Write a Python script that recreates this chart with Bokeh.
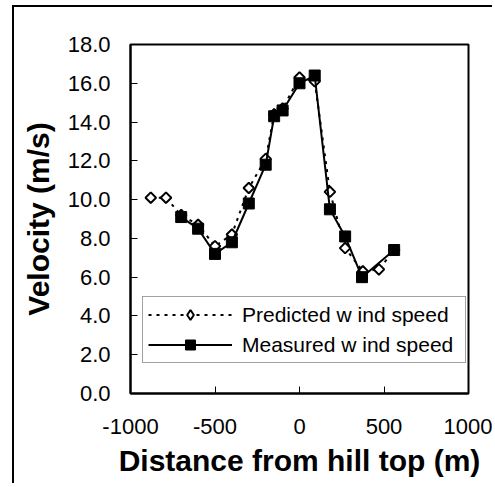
from bokeh.plotting import figure
from bokeh.models import (FixedTicker, PrintfTickFormatter, Range1d, Legend,
                          LegendItem)
from bokeh.embed import file_html
from bokeh.resources import INLINE

# Predicted wind speed
pred_x = [-880, -790, -700, -600, -500, -400, -300, -200, -150, -100, 0, 90, 180, 270, 375, 470, 560]
pred_y = [10.1, 10.1, 9.2, 8.7, 7.6, 8.2, 10.6, 12.1, 14.4, 14.7, 16.3, 16.1, 10.4, 7.5, 6.3, 6.4, 7.4]

# Measured wind speed
meas_x = [-700, -600, -500, -400, -300, -200, -150, -100, 0, 90, 180, 270, 370, 560]
meas_y = [9.1, 8.5, 7.2, 7.8, 9.8, 11.8, 14.3, 14.6, 16.0, 16.4, 9.5, 8.1, 6.0, 7.4]

x_ticks = [-1000, -500, 0, 500, 1000]
y_ticks = [0, 2, 4, 6, 8, 10, 12, 14, 16, 18]

FONT = "Liberation Sans"

p = figure(width=480, height=478, output_backend="svg", toolbar_location=None,
           x_range=Range1d(-1000, 1000), y_range=Range1d(0, 18),
           min_border_left=116, min_border_top=37, min_border_right=26,
           min_border_bottom=92, margin=(5, 0, 0, 12),
           styles={"border-left": "2px solid black",
                   "border-top": "2px solid black"})

p.background_fill_color = "white"
p.border_fill_color = "white"
p.outline_line_color = "black"
p.outline_line_width = 2
p.xgrid.visible = False
p.ygrid.visible = False

for ax in (p.xaxis[0], p.yaxis[0]):
    ax.major_tick_in = 7
    ax.major_tick_out = 0
    ax.minor_tick_line_color = None
    ax.axis_line_width = 2
    ax.major_tick_line_width = 1
    ax.major_label_text_font = FONT
    ax.major_label_text_font_size = "22px"
    ax.major_label_text_color = "black"
    ax.axis_label_text_font = FONT
    ax.axis_label_text_font_size = "30px"
    ax.axis_label_text_font_style = "bold"
    ax.axis_label_text_color = "black"

p.xaxis.ticker = FixedTicker(ticks=x_ticks)
p.yaxis.ticker = FixedTicker(ticks=y_ticks)
p.xaxis.formatter = PrintfTickFormatter(format="%d")
p.yaxis.formatter = PrintfTickFormatter(format="%.1f")
p.xaxis.major_label_standoff = 25
p.yaxis.major_label_standoff = 20
p.xaxis.axis_label = "Distance from hill top (m)"
p.yaxis.axis_label = "Velocity (m/s)"
p.xaxis.axis_label_standoff = 7
p.yaxis.axis_label_standoff = 10

# Predicted: dotted line + hollow diamonds
pl = p.line(pred_x, pred_y, line_color="black", line_width=2, line_dash="3 5")
# narrow diamond (used for the legend swatch, hidden under the plot diamonds)
pm_leg = p.scatter(pred_x, pred_y, marker="diamond", size=9,
                   fill_color="white", line_color="black", line_width=2)
pm = p.scatter(pred_x, pred_y, marker="square", size=7.5, angle=0.785398,
               fill_color="white", line_color="black", line_width=2)

# Measured: solid line + filled squares
ml = p.line(meas_x, meas_y, line_color="black", line_width=2)
mm = p.scatter(meas_x, meas_y, marker="square", size=11,
               fill_color="black", line_color="black", line_width=1)

legend = Legend(items=[
    LegendItem(label="Predicted w ind speed", renderers=[pl, pm_leg]),
    LegendItem(label="Measured w ind speed", renderers=[ml, mm]),
], location=(12, 30))
legend.label_text_font = FONT
legend.label_text_font_size = "21px"
legend.label_text_color = "black"
legend.glyph_width = 84
legend.glyph_height = 25
legend.label_height = 25
legend.label_width = 218
legend.label_standoff = 10
legend.spacing = 5
legend.padding = 5
legend.margin = 0
legend.border_line_color = "#444444"
legend.border_line_width = 1
legend.background_fill_color = "white"
legend.background_fill_alpha = 1
p.add_layout(legend, "center")

open("out.html", "w").write(file_html(p, INLINE))
